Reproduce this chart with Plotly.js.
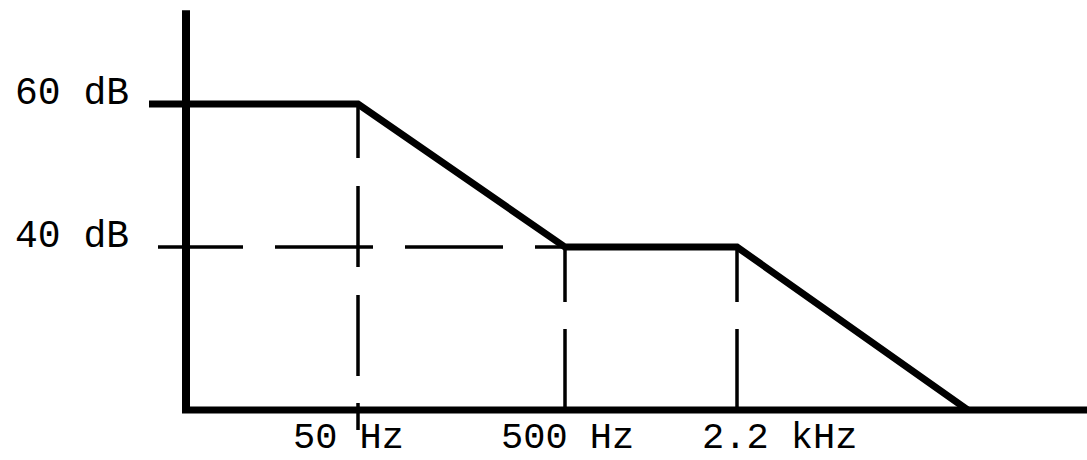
<!DOCTYPE html>
<html>
<head>
<meta charset="utf-8">
<script src="https://cdn.plot.ly/plotly-3.0.1.min.js"></script>
<style>html,body{margin:0;padding:0;background:#fff;}#chart{width:1087px;height:460px;}</style>
</head>
<body>
<div id="chart"></div>
<script>
// Schematic frequency positions (arbitrary horizontal units, y-axis at 0)
const breakLabels = ["50 Hz", "500 Hz", "2.2 kHz"];
const breakPos = [17.2, 37.9, 55.1];
// Response curve (position, dB)
const curveX = [-3.7, 17.2, 37.9, 55.1, 78.2];
const curveY = [60, 60, 40, 40, 17.2];
// Level labels
const levelLabels = ["60 dB", "40 dB"];
const levelValues = [60, 40];
// Axis extents
const axisX = [0, 90.1];
const axisY = [17.2, 73.1];

const black = "#000";
const traces = [];

// 40 dB horizontal dashed guide
traces.push({x: [-2.8, breakPos[1]], y: [levelValues[1], levelValues[1]], mode: "lines",
  line: {color: black, width: 3.5, dash: "85px,32px,98px,32px,98px,32px,300px"}, hoverinfo: "skip"});
// 50 Hz vertical dashed guide (crosses below the x axis)
traces.push({x: [breakPos[0], breakPos[0]], y: [levelValues[0], 14.4], mode: "lines",
  line: {color: black, width: 3.5, dash: "54px,28px,81px,28px,81px,27px,60px"}, hoverinfo: "skip"});
// 500 Hz and 2.2 kHz vertical dashed guides
for (let i = 1; i < 3; i++) {
  traces.push({x: [breakPos[i], breakPos[i]], y: [levelValues[1], axisY[0]], mode: "lines",
    line: {color: black, width: 3.5, dash: "55px,27px,300px"}, hoverinfo: "skip"});
}
// Response curve
traces.push({x: curveX, y: curveY, mode: "lines", line: {color: black, width: 7}, hoverinfo: "skip"});
// Axes
traces.push({x: [axisX[0], axisX[0]], y: [axisY[1], 16.78], mode: "lines", line: {color: black, width: 8}, hoverinfo: "skip"});
traces.push({x: [-0.4, axisX[1]], y: [axisY[0], axisY[0]], mode: "lines", line: {color: black, width: 7}, hoverinfo: "skip"});

const annotations = [];
levelLabels.forEach((t, i) => {
  annotations.push({text: t, x: 0, y: levelValues[i], xref: "x", yref: "y", showarrow: false,
    xanchor: "right", yanchor: "middle", xshift: -56, yshift: 11, borderpad: 0,
    font: {family: "Liberation Mono, monospace", size: 38, color: black}});
});
const labelShift = [-10, 2, 42];
breakLabels.forEach((t, i) => {
  annotations.push({text: t, x: breakPos[i], y: axisY[0], xref: "x", yref: "y", showarrow: false,
    xanchor: "center", yanchor: "middle", xshift: labelShift[i], yshift: -28, borderpad: 0,
    font: {family: "Liberation Mono, monospace", size: 37, color: black}});
});

const layout = {
  width: 1087, height: 460,
  margin: {l: 0, r: 0, t: 0, b: 0},
  paper_bgcolor: "#fff", plot_bgcolor: "#fff",
  showlegend: false,
  xaxis: {range: [-18.6, 90.1], showgrid: false, zeroline: false, showticklabels: false, showline: false, ticks: ""},
  yaxis: {range: [10.21, 74.55], showgrid: false, zeroline: false, showticklabels: false, showline: false, ticks: ""},
  annotations: annotations
};
Plotly.newPlot("chart", traces, layout, {displayModeBar: false, staticPlot: true});
</script>
</body>
</html>
